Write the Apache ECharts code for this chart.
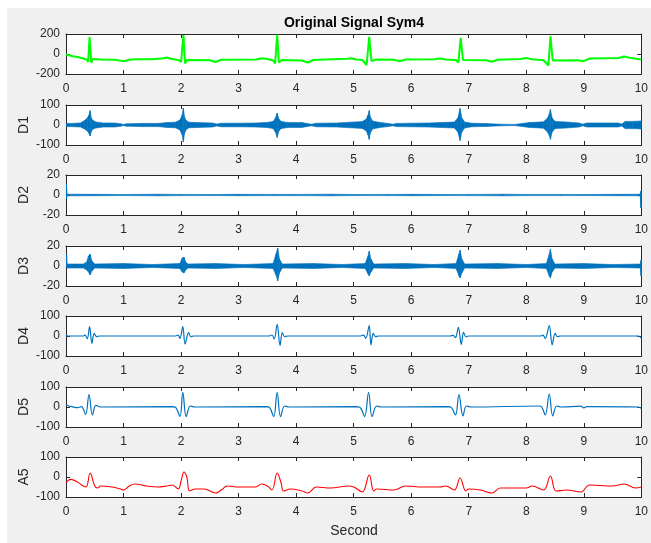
<!DOCTYPE html>
<html>
<head>
<meta charset="utf-8">
<title>Original Signal Sym4</title>
<script src="https://cdn.jsdelivr.net/npm/echarts@6/dist/echarts.min.js"></script>
<style>
  html, body { margin: 0; padding: 0; background: #ffffff; }
  #fig { position: absolute; left: 7px; top: 8px; width: 644px; height: 535px; background: #f0f0f0; }
  #chart { position: absolute; left: 0; top: 0; width: 651px; height: 543px; }
</style>
</head>
<body>
<div id="fig"></div>
<div id="chart"></div>
<script>
// ---- ECG record (seconds) and its sym4 wavelet decomposition ----

// Original signal
const sigT = [0, 0.1, 0.2, 0.3, 0.36, 0.385, 0.41, 0.44, 0.46, 0.6, 0.85, 0.95, 1.02, 1.1, 1.2, 1.5, 1.7, 1.75, 1.82, 1.95, 2.0, 2.04, 2.07, 2.1, 2.5, 2.6, 2.7, 3.3, 3.4, 3.5, 3.6, 3.635, 3.67, 3.7, 3.75, 4.1, 4.2, 4.3, 4.5, 4.9, 4.95, 5.05, 5.15, 5.225, 5.27, 5.31, 5.4, 5.7, 5.8, 5.9, 6.4, 6.5, 6.6, 6.78, 6.82, 6.86, 6.9, 7.3, 7.4, 7.5, 7.9, 8.0, 8.1, 8.3, 8.385, 8.42, 8.46, 8.9, 9.0, 9.1, 9.6, 9.7, 9.8, 10];
const sigV = [-5, -20, -30, -45, -55, -80, 170, -90, -50, -55, -58, -68, -70, -58, -52, -52, -42, -35, -48, -60, -80, 190, -95, -60, -62, -80, -58, -55, -42, -50, -65, -95, 195, -85, -60, -65, -85, -60, -55, -48, -42, -55, -60, -110, 172, -70, -55, -58, -72, -55, -52, -45, -55, -60, -85, 162, -60, -62, -78, -58, -50, -40, -52, -62, -115, 178, -65, -62, -72, -45, -40, -25, -38, -55];

// D1 detail: upper / lower envelope of the noise band
const d1T  = [0, 0.05, 0.25, 0.32, 0.37, 0.40, 0.42, 0.44, 0.47, 0.52, 0.65, 0.85, 0.95, 1.0, 1.05, 1.3, 1.6, 1.75, 1.9, 1.98, 2.02, 2.04, 2.06, 2.09, 2.14, 2.3, 2.55, 2.62, 2.7, 3.0, 3.3, 3.5, 3.6, 3.64, 3.67, 3.70, 3.74, 3.85, 4.1, 4.22, 4.27, 4.35, 4.7, 4.95, 5.15, 5.22, 5.25, 5.27, 5.29, 5.33, 5.45, 5.6, 5.68, 5.75, 6.0, 6.3, 6.5, 6.75, 6.81, 6.85, 6.88, 6.93, 7.05, 7.3, 7.55, 7.8, 8.05, 8.3, 8.37, 8.40, 8.42, 8.45, 8.5, 8.7, 8.92, 8.98, 9.05, 9.3, 9.6, 9.66, 9.72, 9.85, 10];
const d1Hi = [8, 8, 10, 22, 35, 50, 72, 35, 22, 15, 10, 10, 6, 3, 6, 8, 8, 12, 14, 25, 50, 85, 40, 22, 14, 12, 10, 5, 9, 9, 10, 13, 18, 35, 60, 30, 18, 13, 12, 6, 4, 9, 10, 14, 17, 30, 50, 72, 40, 20, 13, 8, 4, 8, 9, 10, 12, 15, 35, 83, 35, 15, 9, 7, 4, 3, 12, 16, 35, 55, 78, 35, 18, 15, 10, 4, 10, 10, 10, 5, 18, 18, 20];
const d1Lo = [-8, -8, -10, -20, -30, -42, -55, -32, -20, -15, -10, -10, -6, -3, -6, -8, -8, -12, -14, -25, -50, -85, -42, -22, -14, -12, -10, -5, -9, -9, -10, -13, -18, -35, -62, -30, -18, -13, -12, -6, -4, -9, -10, -14, -17, -30, -50, -72, -40, -20, -13, -8, -4, -8, -9, -10, -12, -15, -35, -78, -35, -15, -9, -7, -4, -3, -12, -16, -35, -52, -72, -35, -18, -15, -10, -4, -10, -10, -10, -5, -18, -18, -20];

// D2 detail
const d2T  = [0, 0.008, 0.02, 0.5, 1.0, 1.6, 2.0, 2.6, 3.0, 3.6, 4.0, 4.6, 5.0, 5.6, 6.0, 6.6, 7.0, 7.6, 8.0, 8.6, 9.0, 9.6, 9.98, 9.992, 10];
const d2Hi = [11, 11, 0.8, 0.7, 0.5, 0.8, 0.6, 0.5, 0.7, 0.6, 0.6, 0.8, 0.5, 0.6, 0.7, 0.5, 0.6, 0.8, 0.6, 0.6, 0.5, 0.7, 0.8, 4, 4];
const d2Lo = [-4, -4, -0.8, -0.7, -0.5, -0.8, -0.6, -0.5, -0.7, -0.6, -0.6, -0.8, -0.5, -0.6, -0.7, -0.5, -0.6, -0.8, -0.6, -0.6, -0.5, -0.7, -0.8, -13, -13];

// D3 detail
const d3T  = [0, 0.01, 0.02, 0.3, 0.36, 0.39, 0.42, 0.45, 0.5, 1.0, 1.5, 1.98, 2.02, 2.05, 2.08, 2.12, 2.6, 3.1, 3.6, 3.65, 3.68, 3.71, 3.76, 4.3, 4.8, 5.2, 5.25, 5.27, 5.30, 5.35, 5.9, 6.4, 6.78, 6.83, 6.85, 6.88, 6.93, 7.5, 8.0, 8.35, 8.40, 8.42, 8.45, 8.5, 9.0, 9.5, 9.985, 9.995, 10];
const d3Hi = [12, 12, 2, 2, 4, 10, 12, 5, 2, 2.5, 1.5, 2.5, 8, 9, 4, 2, 2.5, 1.5, 2.5, 12, 18, 7, 2, 2.5, 1.5, 2.5, 10, 15, 7, 2, 2.5, 1.5, 2.5, 12, 16, 7, 2, 2.5, 1.5, 2.5, 12, 17, 7, 2, 2.5, 1.5, 2, 6, 6];
const d3Lo = [-1, -1, -2, -2, -4, -6, -9, -5, -2, -2.5, -1.5, -2.5, -6, -7, -4, -2, -2.5, -1.5, -2.5, -9, -15, -7, -2, -2.5, -1.5, -2.5, -8, -10, -6, -2, -2.5, -1.5, -2.5, -10, -12, -7, -2, -2.5, -1.5, -2.5, -10, -12, -6, -2, -2.5, -1.5, -2, -10, -10];

// D4 detail
const d4T = [0, 0.03, 0.3, 0.33, 0.37, 0.41, 0.45, 0.49, 0.53, 0.58, 1.9, 1.95, 1.98, 2.03, 2.07, 2.13, 2.17, 2.22, 3.52, 3.58, 3.62, 3.67, 3.72, 3.76, 3.8, 3.85, 5.12, 5.17, 5.21, 5.27, 5.30, 5.34, 5.38, 5.43, 6.68, 6.73, 6.77, 6.82, 6.87, 6.91, 6.95, 7.0, 8.25, 8.29, 8.33, 8.40, 8.45, 8.50, 8.54, 8.59, 9.95, 10];
const d4V = [5, 0, 0, 6, -14, 47, -37, 13, -3, 0, 0, 4, -12, 47, -40, 17, -3, 0, 0, 5, -15, 58, -48, 17, -3, 0, 0, 4, -12, 52, -45, 13, -3, 0, 0, 3, -8, 43, -42, 18, -4, 0, 0, 4, -12, 52, -45, 13, -3, 0, 0, -10];

// D5 detail
const d5T = [0, 0.05, 0.1, 0.2, 0.27, 0.34, 0.40, 0.46, 0.52, 0.6, 1.85, 1.91, 1.98, 2.03, 2.09, 2.16, 2.24, 3.48, 3.54, 3.61, 3.67, 3.73, 3.8, 3.88, 5.05, 5.12, 5.19, 5.26, 5.32, 5.4, 5.48, 6.64, 6.70, 6.77, 6.83, 6.90, 6.96, 7.04, 8.22, 8.27, 8.33, 8.40, 8.46, 8.53, 8.61, 8.95, 9.0, 9.05, 9.95, 10];
const d5V = [13, 5, 2, -3, 2, -38, 62, -40, 8, 0, 2, -3, -48, 73, -48, 5, 0, 2, -3, -48, 73, -48, 5, 0, 2, -5, -48, 73, -48, 5, 0, 2, -3, -40, 62, -44, 5, 0, 5, 0, -40, 65, -44, 5, 0, 4, -4, 2, 0, -8];

// A5 approximation
const a5T = [0, 0.08, 0.2, 0.3, 0.35, 0.42, 0.5, 0.55, 0.6, 0.8, 0.95, 1.0, 1.1, 1.2, 1.4, 1.6, 1.75, 1.85, 1.95, 2.0, 2.05, 2.1, 2.15, 2.25, 2.4, 2.6, 2.7, 2.8, 3.0, 3.3, 3.4, 3.5, 3.58, 3.67, 3.74, 3.78, 3.9, 4.1, 4.2, 4.35, 4.6, 4.9, 5.0, 5.15, 5.27, 5.35, 5.4, 5.7, 5.9, 6.2, 6.5, 6.6, 6.75, 6.85, 6.95, 7.0, 7.2, 7.4, 7.55, 8.0, 8.1, 8.3, 8.42, 8.52, 8.7, 8.95, 9.1, 9.5, 9.7, 9.9, 10];
const a5V = [-30, -12, -25, -45, -50, 20, -45, -55, -45, -50, -60, -65, -45, -35, -45, -50, -45, -40, -60, -20, 25, 0, -70, -60, -60, -80, -65, -45, -50, -50, -35, -45, -65, 20, -30, -70, -60, -70, -80, -50, -55, -45, -50, -75, 10, -70, -60, -65, -45, -50, -50, -45, -65, -5, -70, -60, -65, -80, -55, -55, -45, -65, 5, -70, -65, -75, -40, -45, -35, -55, -50];

// Panel names and y ranges
const panelNames = ['', 'D1', 'D2', 'D3', 'D4', 'D5', 'A5'];
const yMins = [-200, -100, -20, -20, -100, -100, -100];
const yMaxs = [200, 100, 20, 20, 100, 100, 100];
const yStep = [200, 100, 20, 20, 100, 100, 100];
const xTicks = [0, 10, 1];

const pair = (t, v) => t.map((x, i) => [x, v[i]]);

const ink = '#262626';
const font = '"Liberation Sans", Arial, Helvetica, sans-serif';
const blue = '#0072BD';

const panelTop = [34, 105, 175, 246, 316, 387, 457];
const grids = [], xAxes = [], yAxes = [], series = [];

panelTop.forEach((top, i) => {
  grids.push({ left: 66, width: 576, top: top, height: 40, show: true,
    backgroundColor: '#ffffff', borderWidth: 0 });
  const tick = { inside: true, length: 4, lineStyle: { color: ink, width: 1 } };
  const line = { show: true, onZero: false, lineStyle: { color: ink, width: 1 } };
  xAxes.push({ gridIndex: i, type: 'value', position: 'bottom', min: xTicks[0], max: xTicks[1], interval: xTicks[2],
    axisLine: line, axisTick: tick, splitLine: { show: false },
    axisLabel: { color: ink, fontSize: 12, fontFamily: font, margin: 9 } });
  xAxes.push({ gridIndex: i, type: 'value', position: 'top', min: xTicks[0], max: xTicks[1], interval: xTicks[2],
    axisLine: line, axisTick: tick, splitLine: { show: false }, axisLabel: { show: false } });
  yAxes.push({ gridIndex: i, type: 'value', position: 'left', min: yMins[i], max: yMaxs[i], interval: yStep[i],
    axisLine: line, axisTick: tick, splitLine: { show: false },
    axisLabel: { color: ink, fontSize: 12, fontFamily: font, margin: 6 },
    name: panelNames[i], nameLocation: 'middle', nameRotate: 90, nameGap: 35, nameMoveOverlap: false,
    nameTextStyle: { color: ink, fontSize: 14, fontFamily: font } });
  yAxes.push({ gridIndex: i, type: 'value', position: 'right', min: yMins[i], max: yMaxs[i], interval: yStep[i],
    axisLine: line, axisTick: tick, splitLine: { show: false }, axisLabel: { show: false } });
});

function lineSeries(i, t, v, color, width, smooth) {
  return { type: 'line', xAxisIndex: 2 * i, yAxisIndex: 2 * i, data: pair(t, v),
    symbol: 'none', sampling: 'none', smooth: smooth, clip: true,
    lineStyle: { color: color, width: width } };
}

// Filled noise band: each segment between two envelope samples is a quad,
// placed through the axes' own coordinate mapping.
function bandSeries(i, t, lo, hi) {
  return {
    type: 'custom', xAxisIndex: 2 * i, yAxisIndex: 2 * i, clip: true,
    data: t.map((x, k) => [x, lo[k], hi[k]]),
    encode: { x: 0, y: [1, 2] },
    renderItem: function (params, api) {
      const k = params.dataIndex;
      if (k >= t.length - 1) return null;
      const p = [
        api.coord([t[k], hi[k]]),
        api.coord([t[k + 1], hi[k + 1]]),
        api.coord([t[k + 1], lo[k + 1]]),
        api.coord([t[k], lo[k]])
      ];
      return {
        type: 'polygon',
        shape: { points: p },
        style: { fill: blue, stroke: blue, lineWidth: 0.6 }
      };
    }
  };
}

series.push(lineSeries(0, sigT, sigV, '#00ff00', 2, false));
series.push(bandSeries(1, d1T, d1Lo, d1Hi));
series.push(bandSeries(2, d2T, d2Lo, d2Hi));
series.push(bandSeries(3, d3T, d3Lo, d3Hi));
series.push(lineSeries(4, d4T, d4V, blue, 1.2, 0.35));
series.push(lineSeries(5, d5T, d5V, blue, 1.2, 0.4));
series.push(lineSeries(6, a5T, a5V, '#ff0000', 1.1, 0.4));

const chart = echarts.init(document.getElementById('chart'), null, { renderer: 'canvas' });
chart.setOption({
  animation: false,
  backgroundColor: 'transparent',
  grid: grids,
  xAxis: xAxes,
  yAxis: yAxes,
  series: series,
  graphic: [
    { type: 'text', x: 354, y: 23, style: { text: 'Original Signal Sym4', align: 'center', verticalAlign: 'middle',
      font: 'bold 14px ' + font, fill: '#000000' } },
    { type: 'text', x: 354, y: 531, style: { text: 'Second', align: 'center', verticalAlign: 'middle',
      font: '14px ' + font, fill: ink } }
  ]
});
</script>
</body>
</html>
